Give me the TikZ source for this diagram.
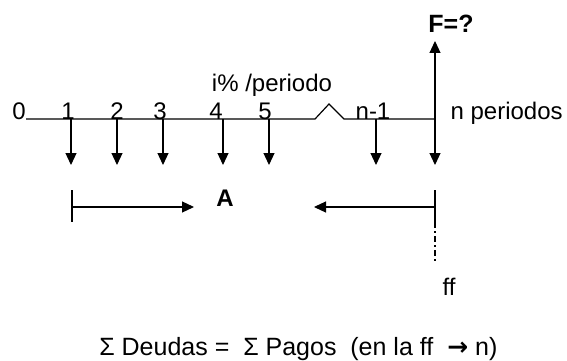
\documentclass[tikz,border=0pt]{standalone}
\usepackage{fontspec}
\setmainfont{Liberation Sans}
\newfontfamily\symfont{DejaVu Sans}
\usetikzlibrary{arrows.meta}
\begin{document}
\begin{tikzpicture}[x=1pt,y=-1pt,
  line width=1.2pt,
  tip/.style={-{Triangle[width=11pt,length=12pt]}},
  lbl/.style={inner sep=0pt,font=\fontsize{24}{24}\selectfont},
  tick/.style={lbl,anchor=base}]
\useasboundingbox (0,0) rectangle (567,361);

% time axis with break
\coordinate (start) at (26,119);
\coordinate (end) at (435,119);
\draw (start) -- (315,119) -- (329,104) -- (344,119) -- (end);

% period labels
\node[tick] (t0) at (19,119) {0};
\node[tick] (t1) at (68,119) {1};
\node[tick] (t2) at (117,119) {2};
\node[tick] (t3) at (160,119) {3};
\node[tick] (t4) at (216,119) {4};
\node[tick] (t5) at (265,119) {5};
\node[tick] (tn1) at (373,119) {n-1};
\node[lbl,anchor=base west] (tn) at (450,119) {n periodos};
\node[lbl,anchor=base] (rate) at (272,91) {i\% /periodo};

% payment points on the axis
\foreach \n/\x in {p1/71,p2/117,p3/163,p4/223,p5/269,pn1/376,pn/435}{
  \coordinate (\n) at (\x,119);
  \coordinate (\n d) at (\x,165);
  \draw[tip] (\n) -- (\n d);
}

% future value
\coordinate (Fend) at (435,41);
\draw[tip] (pn) -- (Fend);
\node[lbl,font=\fontsize{25}{25}\selectfont\bfseries] (F) at (451,24) {F=?};

% bracket arrows around A
\coordinate (L1) at (72,190);
\coordinate (L2) at (72,222);
\coordinate (Lm) at (72,207);
\coordinate (La) at (194,207);
\draw (L1) -- (L2);
\draw[tip] (Lm) -- (La);
\node[lbl,font=\fontsize{24}{24}\selectfont\bfseries] (A) at (225,198) {A};

\coordinate (R1) at (435,190);
\coordinate (R2) at (435,222);
\coordinate (Rm) at (435,207);
\coordinate (Ra) at (314,207);
\coordinate (Rd) at (435,261);
\draw (R1) -- (R2);
\draw[tip] (Rm) -- (Ra);
\draw[dash pattern=on 6pt off 3pt on 2pt off 3pt,line width=1.3pt] (R2) -- (Rd);
\node[lbl] (ff) at (449,287) {ff};

% equation
\node[lbl,anchor=base east,font=\fontsize{25}{25}\selectfont] (eq) at (498,355)
  {Σ Deudas =\ \ Σ Pagos\ \ (en la ff\ \ {\symfont\bfseries →} n)};
\end{tikzpicture}
\end{document}
